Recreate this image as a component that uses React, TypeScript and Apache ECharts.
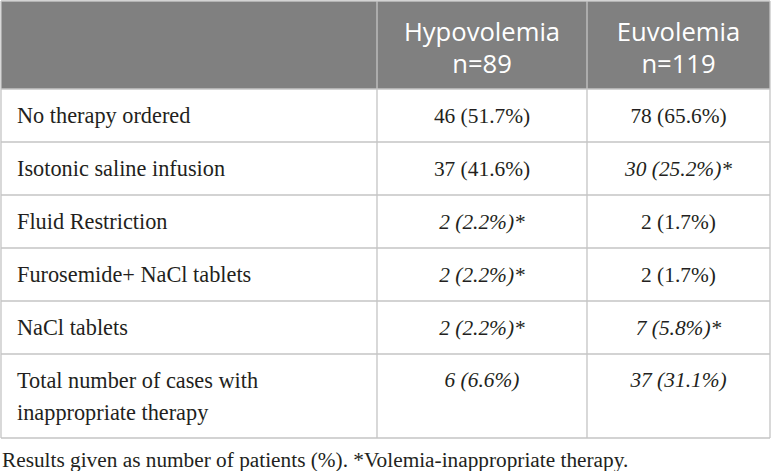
import React, { useEffect, useRef } from "react";
import * as echarts from "echarts";

const headers = ["Hypovolemia", "Euvolemia"];
const groupSizes = [89, 119];
const therapies = [
  "No therapy ordered",
  "Isotonic saline infusion",
  "Fluid Restriction",
  "Furosemide+ NaCl tablets",
  "NaCl tablets",
  "Total number of cases with\ninappropriate therapy",
];
const hypoCounts = [46, 37, 2, 2, 2, 6];
const hypoPct = ["51.7", "41.6", "2.2", "2.2", "2.2", "6.6"];
const hypoItalic = [false, false, true, true, true, true];
const hypoStar = [false, false, true, true, true, false];
const euvoCounts = [78, 30, 2, 2, 7, 37];
const euvoPct = ["65.6", "25.2", "1.7", "1.7", "5.8", "31.1"];
const euvoItalic = [false, true, false, false, true, true];
const euvoStar = [false, true, false, false, true, false];
const footnote =
  "Results given as number of patients (%). *Volemia-inappropriate therapy.";

export default function App() {
  const ref = useRef<HTMLDivElement>(null);
  useEffect(() => {
    document.body.style.margin = "0";
    const chart = echarts.init(ref.current!, null, { renderer: "svg" });
    const colX = [1, 377, 587, 770];
    const rowY = [1, 89, 142, 195, 248, 301, 354, 438];
    const lineColor = "#c4c4c4";
    const textColor = "#231f20";
    const serif = "'Liberation Serif', 'Times New Roman', serif";
    const sans = "'Open Sans', 'Noto Sans', sans-serif";
    const labelSize = 22.3;
    const valueSize = 21.4;
    const els: any[] = [];
    els.push({
      type: "rect",
      shape: { x: colX[0], y: rowY[0], width: colX[3] - colX[0], height: rowY[1] - rowY[0] },
      style: { fill: "#808080" },
    });
    headers.forEach((h, i) => {
      const cx = (colX[i + 1] + colX[i + 2]) / 2;
      els.push({
        type: "text",
        style: {
          text: `${h}\nn=${groupSizes[i]}`,
          x: cx,
          y: 47,
          fill: "#ffffff",
          font: `25.6px ${sans}`,
          lineHeight: 32,
          textAlign: "center",
          textVerticalAlign: "middle",
        },
      });
    });
    therapies.forEach((t, r) => {
      const top = rowY[r + 1];
      const bottom = rowY[r + 2];
      const isLast = r === therapies.length - 1;
      const cy = isLast ? top + 26 : (top + bottom) / 2;
      const nLines = t.split("\n").length;
      els.push({
        type: "text",
        style: {
          text: t,
          x: 17,
          y: cy + ((nLines - 1) * 32) / 2,
          fill: textColor,
          font: `${labelSize}px ${serif}`,
          lineHeight: 32,
          textAlign: "left",
          textVerticalAlign: "middle",
        },
      });
      const cells = [
        { c: hypoCounts[r], p: hypoPct[r], it: hypoItalic[r], st: hypoStar[r] },
        { c: euvoCounts[r], p: euvoPct[r], it: euvoItalic[r], st: euvoStar[r] },
      ];
      cells.forEach((cell, i) => {
        const cx = (colX[i + 1] + colX[i + 2]) / 2;
        els.push({
          type: "text",
          style: {
            text: `${cell.c} (${cell.p}%)${cell.st ? "*" : ""}`,
            x: cx,
            y: cy,
            fill: textColor,
            font: `${cell.it ? "italic " : ""}${valueSize}px ${serif}`,
            textAlign: "center",
            textVerticalAlign: "middle",
          },
        });
      });
    });
    for (let r = 0; r < rowY.length; r++) {
      els.push({
        type: "line",
        shape: { x1: colX[0], y1: rowY[r], x2: colX[3], y2: rowY[r] },
        style: { stroke: lineColor, lineWidth: 1.3 },
      });
    }
    colX.forEach((x) => {
      els.push({
        type: "line",
        shape: { x1: x, y1: rowY[0], x2: x, y2: rowY[rowY.length - 1] },
        style: { stroke: lineColor, lineWidth: 1.3 },
      });
    });
    els.push({
      type: "text",
      style: {
        text: footnote,
        x: 2,
        y: 460,
        fill: textColor,
        font: `21.3px ${serif}`,
        textAlign: "left",
        textVerticalAlign: "middle",
      },
    });
    chart.setOption({
      animation: false,
      backgroundColor: "#ffffff",
      graphic: { elements: els },
    });
    return () => chart.dispose();
  }, []);
  return <div ref={ref} style={{ width: 772, height: 471 }} />;
}
